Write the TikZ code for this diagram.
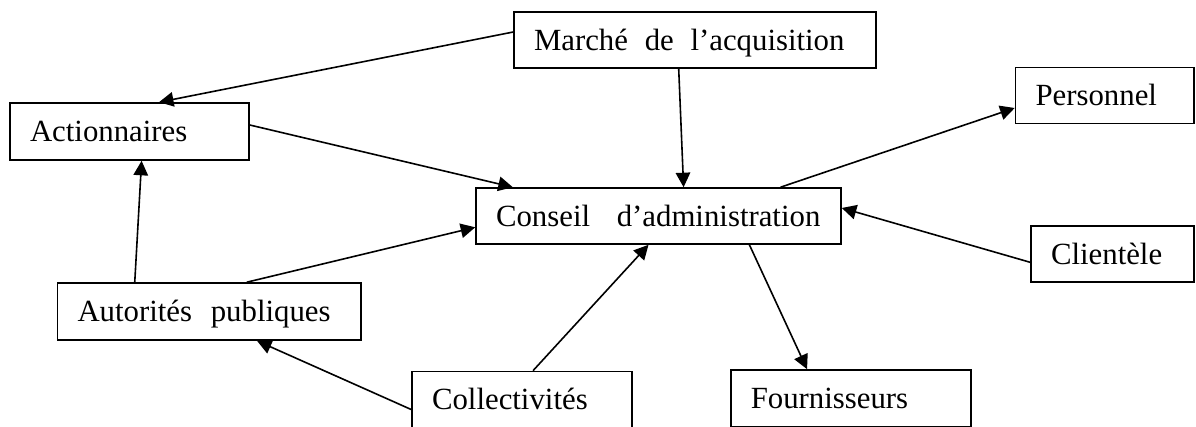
\documentclass[tikz,border=0pt]{standalone}
\usepackage{fontspec}
\setmainfont{Liberation Serif}
\usetikzlibrary{arrows.meta}

\tikzset{
  box/.style={draw, line width=1.6pt, rectangle, inner xsep=20pt, inner ysep=0pt,
    text height=20.5pt, text depth=0pt,
    font=\fontsize{30.8}{36}\selectfont},
  link/.style={line width=1.6pt, -{Triangle[length=14.5pt,width=14.5pt]}}
}
% left-aligned label of a given width inside a box
\newcommand{\boxlabel}[2]{\makebox[#1][l]{#2}}

\begin{document}
\begin{tikzpicture}[x=1pt,y=-1pt]
  \clip (0,0) rectangle (1196,426);

  % stakeholders around the board
  \node[box, minimum height=56pt] (mar) at (695,40)
    {\boxlabel{322pt}{Marché\hspace{9pt} de\hspace{9pt} l’acquisition}};
  \node[box, minimum height=57pt] (act) at (129.5,131.5)
    {\boxlabel{199pt}{Actionnaires}};
  \node[box, minimum height=56pt] (per) at (1104.75,95.5)
    {\boxlabel{138.5pt}{Personnel}};
  \node[box, minimum height=56pt] (con) at (658.5,216)
    {\boxlabel{325pt}{Conseil\hspace{19pt} d’administration}};
  \node[box, minimum height=56pt] (cli) at (1112.5,254)
    {\boxlabel{123pt}{Clientèle}};
  \node[box, minimum height=57pt] (aut) at (209.25,311.5)
    {\boxlabel{263.5pt}{Autorités\hspace{11pt} publiques}};
  \node[box, minimum height=56pt] (col) at (522,399.5)
    {\boxlabel{180pt}{Collectivités}};
  \node[box, minimum height=57pt] (fou) at (850.75,398.5)
    {\boxlabel{200pt}{Fournisseurs}};

  % relations
  \draw[link] ([yshift=8pt]mar.west) -- ([xshift=29.5pt]act.north);
  \draw[link] ([yshift=6.5pt]act.east) -- ([xshift=-145.7pt]con.north);
  \draw[link] ([xshift=-16.3pt]mar.south) -- ([xshift=25.1pt]con.north);
  \draw[link] ([xshift=-74.5pt]aut.north) -- ([xshift=12.1pt]act.south);
  \draw[link] ([xshift=37.5pt]aut.north) -- ([yshift=-11.3pt]con.west);
  \draw[link] ([xshift=122pt]con.north) -- ([yshift=-12.5pt]per.west);
  \draw[link] ([yshift=-8.3pt]cli.west) -- ([yshift=8pt]con.east);
  \draw[link] ([xshift=90.9pt]con.south) -- ([xshift=-43.7pt]fou.north);
  \draw[link] ([xshift=11pt]col.north) -- ([xshift=-10pt]con.south);
  \draw[link] ([yshift=-10pt]col.west) -- ([xshift=47.75pt]aut.south);
\end{tikzpicture}
\end{document}
